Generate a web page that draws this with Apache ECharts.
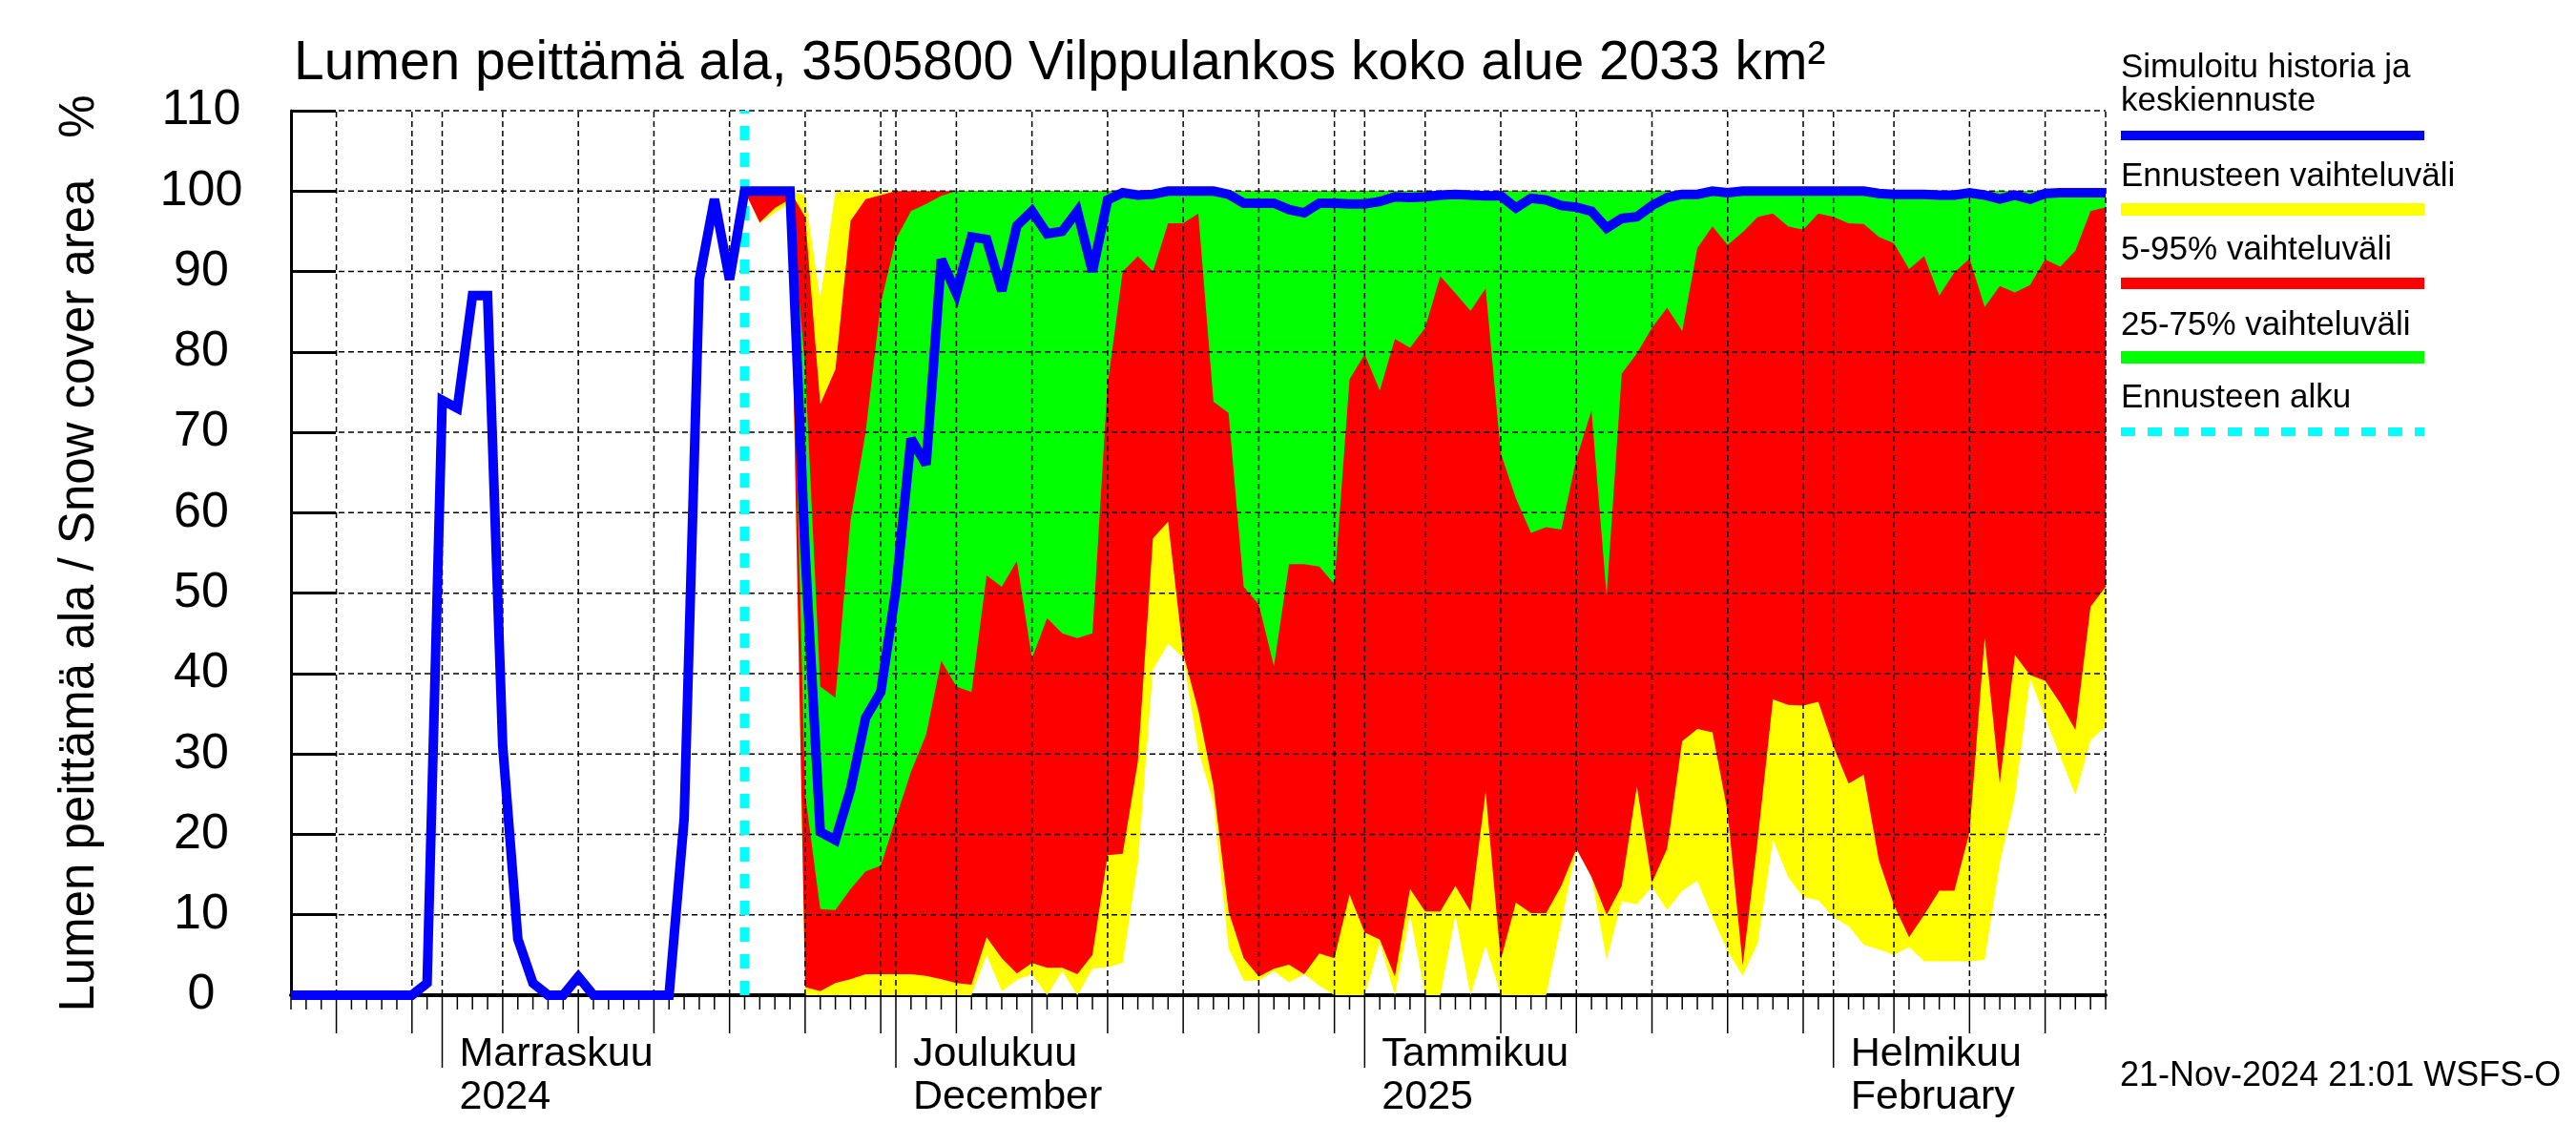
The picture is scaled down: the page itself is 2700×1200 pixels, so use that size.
<!DOCTYPE html>
<html>
<head>
<meta charset="utf-8">
<script src="https://cdn.jsdelivr.net/npm/echarts@6/dist/echarts.min.js"></script>
<style>html,body{margin:0;padding:0;background:#fff}#c{width:2700px;height:1200px}</style>
</head>
<body>
<div id="c"></div>
<script>
// ---------- data ----------
const startDate = '2024-10-22';
const endDate = '2025-02-19';
const forecastStart = '2024-11-21';

// simulated history + mean forecast, one value per day from startDate
const historyAndMean = [
  0,0,0,0,0,0,0,0,0, 1.5, 74, 73, 87, 87, 31, 7, 1.5, 0, 0, 2.3,
  0,0,0,0,0,0, 22, 89, 99, 89,
  100,100,100,100, 55, 20.3, 19.3, 25.6, 34.5, 37.7,
  50.4, 69.2, 66, 91.5, 87.3, 94.3, 94, 87.6, 95.7, 97.5,
  94.7, 95, 97.5, 90, 98.9, 99.8, 99.5, 99.6, 100, 100,
  100, 100, 99.6, 98.5, 98.5, 98.5, 97.7, 97.3, 98.5, 98.5,
  98.4, 98.4, 98.7, 99.3, 99.2, 99.3, 99.5, 99.6, 99.5, 99.4,
  99.4, 97.9, 99.1, 98.9, 98.2, 98, 97.5, 95.4, 96.6, 96.8,
  98.2, 99.2, 99.6, 99.6, 100, 99.8, 100, 100, 100, 100,
  100, 100, 100, 100, 100, 99.7, 99.6, 99.6, 99.6, 99.5,
  99.5, 99.8, 99.5, 99, 99.5, 99, 99.7, 99.8, 99.8, 99.8, 99.8
];

// forecast bands, one value per day from forecastStart
const bandMax = [
  100,100,100,100,99.5,86.5,100,100,100,100,
  100,100,100,100,100,100,100,100,100,100,
  100,100,100,100,100,100,100,100,100,100,
  100,100,100,100,100,100,100,100,100,100,
  100,100,100,100,100,100,100,100,100,100,
  100,100,100,100,100,100,100,100,100,100,
  100,100,100,100,100,100,100,100,100,100,
  100,100,100,100,100,100,100,100,100,100,
  100,100,100,100,100,100,100,100,100,100,100
];
const p95 = [
  100,100,100,100,96.8,73.5,77.8,96.3,99,99.5,
  100,100,100,100,100,100,100,100,100,100,
  100,100,100,100,100,100,100,100,100,100,
  100,100,100,100,100,100,100,100,100,100,
  100,100,100,100,100,100,100,100,100,100,
  100,100,100,100,100,100,100,100,100,100,
  100,100,100,100,100,100,100,100,100,100,
  100,100,100,100,100,100,100,100,100,100,
  100,100,100,100,100,100,100,100,100,100,100
];
const p75 = [
  100,100,100,100,78,38.4,37,59,70,86,
  94,97.5,98.4,99.4,100,100,100,100,100,100,
  100,100,100,100,100,100,100,100,100,100,
  100,100,100,100,100,100,100,100,100,100,
  100,100,100,100,100,100,100,100,100,100,
  100,100,100,100,100,100,100,100,100,100,
  100,100,100,100,100,100,100,100,100,100,
  100,100,100,100,100,100,100,100,100,100,
  100,100,100,100,100,100,100,100,100,100,100
];
const p25 = [
  100, 99.5, 99.5, 100, 25, 10.7, 10.6, 13.2, 15.4, 16.1,
  22, 27.8, 32.4, 41.6, 38.4, 37.7, 52.2, 50.8, 54, 41.9,
  46.9, 45, 44.4, 45, 75.9, 90, 91.9, 90, 96, 96,
  97.2, 73.8, 72.4, 50.8, 48.6, 40.9, 53.6, 53.6, 53.3, 51.1,
  76.6, 79.7, 75.2, 81.6, 80.5, 83, 89.4, 87.3, 85.1, 87.9,
  67.4, 61.8, 57.5, 58.2, 57.9, 66.7, 72.7, 49.7, 77.3, 79.8,
  83, 85.5, 82.6, 92.9, 95.6, 93.3, 94.9, 96.8, 97.2, 95.6,
  95.2, 97.2, 96.8, 96, 95.9, 94.3, 93.5, 90.3, 91.9, 87,
  89.9, 91.6, 85.6, 88.2, 87.4, 88.3, 91.5, 90.6, 92.6, 97.5, 98
];
const p05 = [
  100, 96.1, 97.9, 99, 1, 0.5, 1.5, 2, 2.6, 2.6,
  2.6, 2.6, 2.4, 2, 1.5, 1.3, 7.2, 4.6, 2.7, 4,
  3.4, 3.4, 2.6, 5, 17.4, 17.6, 29, 56.8, 58.9, 42.5,
  35.4, 26, 10.4, 4.6, 2.3, 3.3, 3.8, 2.6, 5.2, 4.6,
  12.5, 7.8, 6.9, 2.3, 13.2, 10.4, 10.4, 13.6, 10.4, 25.3,
  4.4, 11.5, 10.2, 10.2, 13.6, 18.2, 14.7, 10, 13.6, 26,
  14, 18.2, 31.6, 33.1, 32.7, 22.8, 3.7, 19.5, 36.8, 36.1,
  36, 36.5, 30.9, 26.3, 27.4, 16.8, 11.2, 7.2, 10, 13,
  13, 20.3, 44.4, 26.3, 42.3, 39.8, 39.1, 36.3, 33, 48.3, 50.8
];
const bandMin = [
  100, 96, 97.3, 98.5, 0, 0, 0, 0, 0, 0,
  0, 0, 0, 0, 0, 0, 5, 0.5, 1.9, 2.6,
  0, 3, 0, 3.3, 3.5, 4, 16.4, 40.5, 43.7, 42,
  30.4, 24, 5.8, 1.8, 1.8, 3, 1.6, 2.6, 1.2, 0,
  0, 0, 6.5, 0, 10, 0, 0, 10, 0, 6.2,
  0, 0, 0, 0, 9, 18.2, 14.7, 4.4, 11.7, 11.3,
  13.5, 10.6, 13, 14.2, 9.7, 5.5, 2.4, 6.5, 19.3, 14.7,
  12.2, 11.8, 9.7, 8.6, 6.3, 5.7, 5, 6, 4.2, 4.2,
  4.2, 4.2, 4.4, 16.4, 24.6, 39.4, 34.5, 29.7, 24.9, 31.7, 33.4
];

// axis labels
const monthStarts = ['2024-11-01', '2024-12-01', '2025-01-01', '2025-02-01'];
const monthLabels = ['Marraskuu\n2024', 'Joulukuu\nDecember', 'Tammikuu\n2025', 'Helmikuu\nFebruary'];
const yGridValues = [10, 20, 30, 40, 50, 60, 70, 80, 90, 100, 110];

const titleText = 'Lumen peittämä ala, 3505800 Vilppulankos koko alue 2033 km²';
const yAxisTitle = 'Lumen peittämä ala / Snow cover area';
const legendItems = [
  { label: 'Simuloitu historia ja\nkeskiennuste', color: '#0000ff' },
  { label: 'Ennusteen vaihteluväli', color: '#ffff00' },
  { label: '5-95% vaihteluväli', color: '#ff0000' },
  { label: '25-75% vaihteluväli', color: '#00ff00' },
  { label: 'Ennusteen alku', color: '#00ffff' }
];
const stampText = '21-Nov-2024 21:01 WSFS-O';

// ---------- build ----------
const DAY = 86400000;
const ts = s => Date.parse(s + 'T00:00:00Z');
const t0 = ts(startDate), tEnd = ts(endDate), tf = ts(forecastStart);
const FONT = '"Liberation Sans", Arial, Helvetica, sans-serif';

const dayList = [];
for (let t = t0; t <= tEnd; t += DAY) dayList.push(t);
const vGrid = dayList.filter(t => { const d = new Date(t).getUTCDate(); return d === 1 || d % 5 === 0; });
if (vGrid[vGrid.length - 1] !== tEnd) vGrid.push(tEnd);

function band(name, lo, hi, color, z) {
  const loData = lo.map((v, i) => [tf + i * DAY, v]);
  const diffData = hi.map((v, i) => [tf + i * DAY, Math.round((v - lo[i]) * 1000) / 1000]);
  const common = { type: 'line', stack: name, stackStrategy: 'all', showSymbol: false, symbol: 'none',
    silent: true, z: z, clip: true, lineStyle: { width: 0, opacity: 0 } };
  return [
    Object.assign({}, common, { name: name + '_lo', data: loData }),
    Object.assign({}, common, { name: name + '_hi', data: diffData, areaStyle: { color: color, opacity: 1 } })
  ];
}

const dashStyle = { stroke: '#000', lineWidth: 1.5, lineDash: [6, 4] };

const series = [].concat(
  band('minmax', bandMin, bandMax, '#ffff00', 1),
  band('p5_95', p05, p95, '#ff0000', 2),
  band('p25_75', p25, p75, '#00ff00', 3),
  [
    { // horizontal dashed grid
      type: 'custom', z: 4, silent: true, clip: false,
      data: yGridValues.map(v => [t0, v]),
      renderItem: (params, api) => {
        const a = api.coord([t0, api.value(1)]);
        const b = api.coord([tEnd, api.value(1)]);
        return { type: 'line', shape: { x1: a[0], y1: a[1], x2: b[0], y2: b[1] }, style: dashStyle };
      }
    },
    { // vertical dashed grid
      type: 'custom', z: 4, silent: true, clip: false,
      data: vGrid.map(t => [t, 0]),
      renderItem: (params, api) => {
        const a = api.coord([api.value(0), 0]);
        const b = api.coord([api.value(0), 110]);
        return { type: 'line', shape: { x1: a[0], y1: a[1], x2: b[0], y2: b[1] }, style: dashStyle };
      }
    },
    { // x axis ticks
      type: 'custom', z: 4, silent: true, clip: false,
      data: dayList.map(t => [t, 0]),
      renderItem: (params, api) => {
        const t = api.value(0);
        const dom = new Date(t).getUTCDate();
        const p = api.coord([t, 0]);
        const len = dom === 1 ? 74 : (dom % 5 === 0 ? 38 : 13);
        return { type: 'line', shape: { x1: p[0], y1: p[1] + 2, x2: p[0], y2: p[1] + 2 + len },
          style: { stroke: '#000', lineWidth: 1.5 } };
      }
    },
    { // month labels
      type: 'custom', z: 4, silent: true, clip: false,
      data: monthStarts.map(s => [ts(s), 0]),
      renderItem: (params, api) => {
        const p = api.coord([api.value(0), 0]);
        return { type: 'text', x: p[0] + 18, y: p[1] + 40,
          style: { text: monthLabels[params.dataIndex], fill: '#000', fontSize: 43, fontFamily: FONT,
            align: 'left', verticalAlign: 'top', lineHeight: 45 } };
      }
    },
    { // forecast start line
      type: 'custom', z: 5, silent: true, clip: false,
      data: [[tf, 0]],
      renderItem: (params, api) => {
        const a = api.coord([api.value(0), 0]);
        const b = api.coord([api.value(0), 110]);
        return { type: 'line', shape: { x1: a[0], y1: a[1], x2: b[0], y2: b[1] },
          style: { stroke: '#00ffff', lineWidth: 10, lineDash: [15, 13] } };
      }
    },
    { // history + mean forecast
      name: 'Simuloitu historia ja keskiennuste', type: 'line', z: 6, silent: true, clip: false,
      showSymbol: false, symbol: 'none',
      data: historyAndMean.map((v, i) => [t0 + i * DAY, v]),
      lineStyle: { color: '#0000ff', width: 10, join: 'miter', miterLimit: 3, cap: 'butt' }
    }
  ]
);

// legend graphics
const LX = 2223, LW = 318;
const legendGraphics = [
  { type: 'text', x: LX, y: 71, style: { text: 'Simuloitu historia ja', fill: '#000', fontSize: 35, fontFamily: FONT, align: 'left', verticalAlign: 'middle' } },
  { type: 'text', x: LX, y: 106, style: { text: 'keskiennuste', fill: '#000', fontSize: 35, fontFamily: FONT, align: 'left', verticalAlign: 'middle' } },
  { type: 'rect', shape: { x: LX, y: 137, width: LW, height: 10 }, style: { fill: legendItems[0].color } },
  { type: 'text', x: LX, y: 185, style: { text: legendItems[1].label, fill: '#000', fontSize: 35, fontFamily: FONT, align: 'left', verticalAlign: 'middle' } },
  { type: 'rect', shape: { x: LX, y: 213, width: LW, height: 13 }, style: { fill: legendItems[1].color } },
  { type: 'text', x: LX, y: 262, style: { text: legendItems[2].label, fill: '#000', fontSize: 35, fontFamily: FONT, align: 'left', verticalAlign: 'middle' } },
  { type: 'rect', shape: { x: LX, y: 291, width: LW, height: 12 }, style: { fill: legendItems[2].color } },
  { type: 'text', x: LX, y: 341, style: { text: legendItems[3].label, fill: '#000', fontSize: 35, fontFamily: FONT, align: 'left', verticalAlign: 'middle' } },
  { type: 'rect', shape: { x: LX, y: 368, width: LW, height: 13 }, style: { fill: legendItems[3].color } },
  { type: 'text', x: LX, y: 417, style: { text: legendItems[4].label, fill: '#000', fontSize: 35, fontFamily: FONT, align: 'left', verticalAlign: 'middle' } },
  { type: 'line', shape: { x1: LX, y1: 452.5, x2: LX + LW, y2: 452.5 }, style: { stroke: legendItems[4].color, lineWidth: 9, lineDash: [15, 13] } }
];

const option = {
  animation: false,
  backgroundColor: '#ffffff',
  textStyle: { fontFamily: FONT },
  grid: { left: 305, right: 493, top: 116, bottom: 157, containLabel: false, outerBoundsMode: 'none' },
  xAxis: {
    type: 'time', min: t0, max: tEnd,
    axisLine: { show: true, onZero: false, lineStyle: { color: '#000', width: 4 } },
    axisTick: { show: false }, axisLabel: { show: false }, splitLine: { show: false }, minorTick: { show: false }
  },
  yAxis: {
    type: 'value', min: 0, max: 110, interval: 10,
    axisLine: { show: true, lineStyle: { color: '#000', width: 3 } },
    axisTick: { show: true, inside: true, length: 47, lineStyle: { color: '#000', width: 3 } },
    axisLabel: { show: true, fontSize: 52, color: '#000', fontFamily: FONT, margin: 94, align: 'center',
      padding: [0, 0, 16, 0], showMinLabel: true, showMaxLabel: true },
    splitLine: { show: false }
  },
  graphic: [
    { type: 'text', x: 308, y: 67, style: { text: titleText, fill: '#000', fontSize: 57, fontFamily: FONT, align: 'left', verticalAlign: 'middle' } },
    { type: 'text', x: 84, y: 624, rotation: Math.PI / 2, style: { text: yAxisTitle, fill: '#000', fontSize: 51, fontFamily: FONT, align: 'center', verticalAlign: 'middle' } },
    { type: 'text', x: 84, y: 122, rotation: Math.PI / 2, style: { text: '%', fill: '#000', fontSize: 51, fontFamily: FONT, align: 'center', verticalAlign: 'middle' } },
    { type: 'text', x: 2222, y: 1128, style: { text: stampText, fill: '#000', fontSize: 36, fontFamily: FONT, align: 'left', verticalAlign: 'middle' } }
  ].concat(legendGraphics),
  series: series
};

const chart = echarts.init(document.getElementById('c'), null, { renderer: 'canvas', width: 2700, height: 1200 });
chart.setOption(option);
</script>
</body>
</html>
